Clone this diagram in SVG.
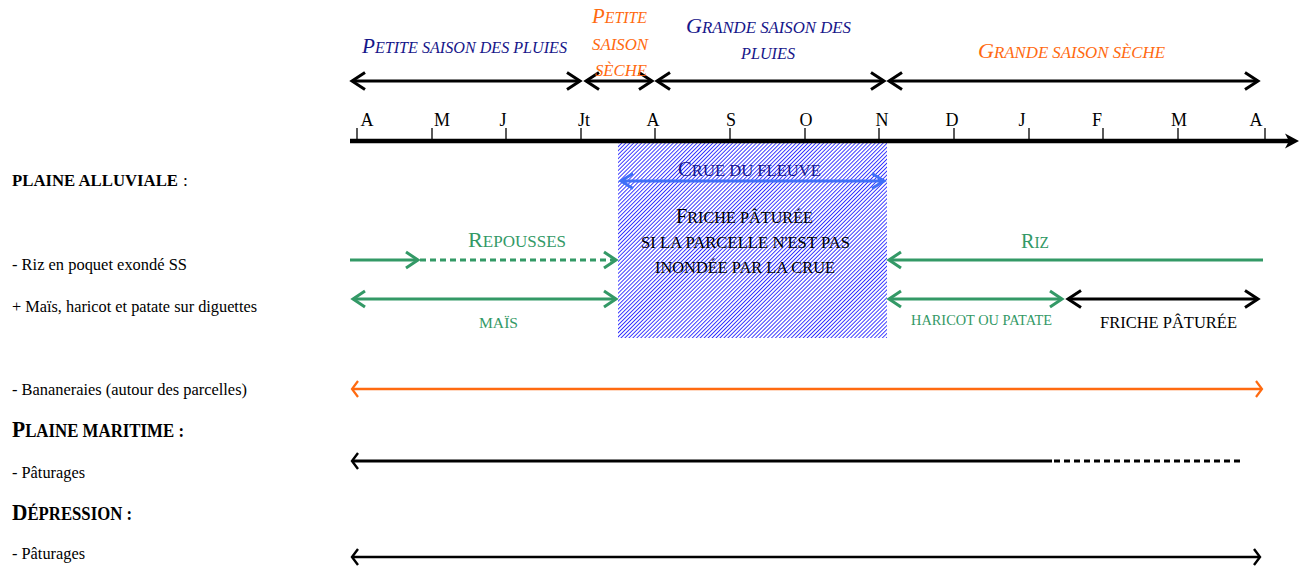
<svg xmlns="http://www.w3.org/2000/svg" width="1307" height="570" viewBox="0 0 1307 570">
<style>
text{font-family:"Liberation Serif","Times New Roman",serif;}
.navy{fill:#16168a;font-style:italic;}
.orng{fill:#ff6a10;font-style:italic;}
.mon{font-size:18px;fill:#000;text-anchor:middle;}
.grn{fill:#339966;}
.blk{fill:#000;}
.lbl{font-size:17.5px;fill:#000;}
.bold{font-weight:bold;}
</style>
<defs>
<pattern id="hatch" patternUnits="userSpaceOnUse" width="2.8" height="4" patternTransform="rotate(45)">
<rect width="2.8" height="4" fill="#ffffff"/>
<rect width="0.9" height="4" fill="#2a2aff"/>
</pattern>
<marker id="mB" markerUnits="userSpaceOnUse" markerWidth="20" markerHeight="20" viewBox="0 0 20 20" refX="15" refY="10" orient="auto-start-reverse" overflow="visible">
<path d="M2,1.5 L15,10 L2,18.5" fill="none" stroke="#000" stroke-width="3"/>
</marker>
<marker id="mG" markerUnits="userSpaceOnUse" markerWidth="20" markerHeight="20" viewBox="0 0 20 20" refX="15" refY="10" orient="auto-start-reverse" overflow="visible">
<path d="M3,2 L15,10 L3,18" fill="none" stroke="#339966" stroke-width="3"/>
</marker>
<marker id="mL" markerUnits="userSpaceOnUse" markerWidth="20" markerHeight="20" viewBox="0 0 20 20" refX="15" refY="10" orient="auto-start-reverse" overflow="visible">
<path d="M3,2.5 L15,10 L3,17.5" fill="none" stroke="#3f6ff7" stroke-width="3"/>
</marker>
<marker id="mO" markerUnits="userSpaceOnUse" markerWidth="20" markerHeight="20" viewBox="0 0 20 20" refX="12" refY="10" orient="auto-start-reverse" overflow="visible">
<path d="M6,2 L12,10 L6,18" fill="none" stroke="#ff6a10" stroke-width="2.2"/>
</marker>
<marker id="mK" markerUnits="userSpaceOnUse" markerWidth="20" markerHeight="20" viewBox="0 0 20 20" refX="12" refY="10" orient="auto-start-reverse" overflow="visible">
<path d="M6,2 L12,10 L6,18" fill="none" stroke="#000" stroke-width="2.4"/>
</marker>
</defs>

<rect id="crue-zone" x="618" y="143" width="269" height="195" fill="url(#hatch)"/>

<g id="timeline">
<line x1="350" y1="141" x2="1292" y2="141" stroke="#000" stroke-width="4.5"/>
<polygon points="1285,133.5 1299,141 1285,148.5 1289,141" fill="#000"/>
<g stroke="#000" stroke-width="1.3">
<line x1="357" y1="128" x2="357" y2="141"/>
<line x1="432" y1="128" x2="432" y2="141"/>
<line x1="506" y1="128" x2="506" y2="141"/>
<line x1="581" y1="128" x2="581" y2="141"/>
<line x1="655" y1="128" x2="655" y2="141"/>
<line x1="730" y1="128" x2="730" y2="141"/>
<line x1="805" y1="128" x2="805" y2="141"/>
<line x1="879" y1="128" x2="879" y2="141"/>
<line x1="954" y1="128" x2="954" y2="141"/>
<line x1="1029" y1="128" x2="1029" y2="141"/>
<line x1="1103" y1="128" x2="1103" y2="141"/>
<line x1="1178" y1="128" x2="1178" y2="141"/>
<line x1="1265" y1="128" x2="1265" y2="141"/>
</g>
<text class="mon" x="367" y="126">A</text>
<text class="mon" x="442" y="126">M</text>
<text class="mon" x="503" y="126">J</text>
<text class="mon" x="584" y="126">Jt</text>
<text class="mon" x="653" y="126">A</text>
<text class="mon" x="731" y="126">S</text>
<text class="mon" x="806" y="126">O</text>
<text class="mon" x="882" y="126">N</text>
<text class="mon" x="952" y="126">D</text>
<text class="mon" x="1022" y="126">J</text>
<text class="mon" x="1097" y="126">F</text>
<text class="mon" x="1179" y="126">M</text>
<text class="mon" x="1256" y="126">A</text>
</g>

<g id="connectors" fill="none">
<line x1="352" y1="81" x2="580" y2="81" stroke="#000" stroke-width="3" marker-start="url(#mB)" marker-end="url(#mB)"/>
<line x1="586" y1="81" x2="652" y2="81" stroke="#000" stroke-width="3" marker-start="url(#mB)" marker-end="url(#mB)"/>
<line x1="657" y1="81" x2="884" y2="81" stroke="#000" stroke-width="3" marker-start="url(#mB)" marker-end="url(#mB)"/>
<line x1="889" y1="81" x2="1258" y2="81" stroke="#000" stroke-width="3" marker-start="url(#mB)" marker-end="url(#mB)"/>
<line x1="621" y1="181" x2="884" y2="181" stroke="#3f6ff7" stroke-width="3" marker-start="url(#mL)" marker-end="url(#mL)"/>
<line x1="350" y1="260" x2="418" y2="260" stroke="#339966" stroke-width="3" marker-end="url(#mG)"/>
<line x1="420" y1="260" x2="616" y2="260" stroke="#339966" stroke-width="3" stroke-dasharray="6 4" marker-end="url(#mG)"/>
<line x1="1263" y1="260" x2="889" y2="260" stroke="#339966" stroke-width="3" marker-end="url(#mG)"/>
<line x1="353" y1="299" x2="616" y2="299" stroke="#339966" stroke-width="3" marker-start="url(#mG)" marker-end="url(#mG)"/>
<line x1="889" y1="299" x2="1062" y2="299" stroke="#339966" stroke-width="3" marker-start="url(#mG)" marker-end="url(#mG)"/>
<line x1="1068" y1="299" x2="1258" y2="299" stroke="#000" stroke-width="3" marker-start="url(#mB)" marker-end="url(#mB)"/>
<line x1="352" y1="389" x2="1262" y2="389" stroke="#ff6a10" stroke-width="2.6" marker-start="url(#mO)" marker-end="url(#mO)"/>
<line x1="1052" y1="461" x2="352" y2="461" stroke="#000" stroke-width="3" marker-end="url(#mK)"/>
<line x1="1054" y1="461" x2="1240" y2="461" stroke="#000" stroke-width="3" stroke-dasharray="6 4"/>
<line x1="352" y1="557" x2="1260" y2="557" stroke="#000" stroke-width="2.5" marker-start="url(#mK)" marker-end="url(#mK)"/>
</g>

<g id="season-labels">
<text class="navy" x="362" y="53" textLength="205" lengthAdjust="spacingAndGlyphs"><tspan font-size="21">P</tspan><tspan font-size="16">ETITE SAISON DES PLUIES</tspan></text>
<text class="orng" x="592" y="23" textLength="55" lengthAdjust="spacingAndGlyphs"><tspan font-size="21">P</tspan><tspan font-size="16">ETITE</tspan></text>
<text class="orng" x="592" y="50" font-size="16" textLength="56" lengthAdjust="spacingAndGlyphs">SAISON</text>
<text class="orng" x="595" y="76" font-size="16" textLength="52" lengthAdjust="spacingAndGlyphs">SÈCHE</text>
<text class="navy" x="686" y="33" textLength="165" lengthAdjust="spacingAndGlyphs"><tspan font-size="21">G</tspan><tspan font-size="16">RANDE SAISON DES</tspan></text>
<text class="navy" x="741" y="59" font-size="16" textLength="54" lengthAdjust="spacingAndGlyphs">PLUIES</text>
<text class="orng" x="978" y="58" textLength="187" lengthAdjust="spacingAndGlyphs"><tspan font-size="21">G</tspan><tspan font-size="16">RANDE SAISON SÈCHE</tspan></text>
</g>

<g id="crue-labels">
<text x="678" y="176" fill="#16168a" textLength="143" lengthAdjust="spacingAndGlyphs"><tspan font-size="20">C</tspan><tspan font-size="16">RUE DU FLEUVE</tspan></text>
<text class="blk" x="676" y="223" textLength="137" lengthAdjust="spacingAndGlyphs"><tspan font-size="20">F</tspan><tspan font-size="16">RICHE PÂTURÉE</tspan></text>
<text class="blk" x="641" y="248" font-size="16" textLength="209" lengthAdjust="spacingAndGlyphs">SI LA PARCELLE N'EST PAS</text>
<text class="blk" x="655" y="273" font-size="16" textLength="180" lengthAdjust="spacingAndGlyphs">INONDÉE PAR LA CRUE</text>
</g>

<g id="crop-labels">
<text class="grn" x="468" y="247" textLength="98" lengthAdjust="spacingAndGlyphs"><tspan font-size="21">R</tspan><tspan font-size="16">EPOUSSES</tspan></text>
<text class="grn" x="1021" y="248" textLength="28" lengthAdjust="spacingAndGlyphs"><tspan font-size="21">R</tspan><tspan font-size="16">IZ</tspan></text>
<text class="grn" x="479" y="328" font-size="15.5" textLength="39" lengthAdjust="spacingAndGlyphs">MAÏS</text>
<text class="grn" x="911" y="325" font-size="15" textLength="141" lengthAdjust="spacingAndGlyphs">HARICOT OU PATATE</text>
<text class="blk" x="1100" y="328" font-size="16" textLength="137" lengthAdjust="spacingAndGlyphs">FRICHE PÂTURÉE</text>
</g>

<g id="row-labels">
<text class="lbl bold" x="12" y="186" textLength="166" lengthAdjust="spacingAndGlyphs">PLAINE ALLUVIALE</text>
<text class="lbl" x="183" y="186">:</text>
<text class="lbl" x="12" y="270" textLength="175" lengthAdjust="spacingAndGlyphs">- Riz en poquet exondé SS</text>
<text class="lbl" x="12" y="312" textLength="245" lengthAdjust="spacingAndGlyphs">+ Maïs, haricot et patate sur diguettes</text>
<text class="lbl" x="12" y="395" textLength="235" lengthAdjust="spacingAndGlyphs">- Bananeraies (autour des parcelles)</text>
<text class="lbl bold" x="12" y="437" textLength="172" lengthAdjust="spacingAndGlyphs"><tspan font-size="23">P</tspan><tspan font-size="18">LAINE MARITIME :</tspan></text>
<text class="lbl" x="12" y="478" textLength="73" lengthAdjust="spacingAndGlyphs">- Pâturages</text>
<text class="lbl bold" x="12" y="520" textLength="120" lengthAdjust="spacingAndGlyphs"><tspan font-size="23">D</tspan><tspan font-size="18">ÉPRESSION :</tspan></text>
<text class="lbl" x="12" y="559" textLength="73" lengthAdjust="spacingAndGlyphs">- Pâturages</text>
</g>
</svg>
